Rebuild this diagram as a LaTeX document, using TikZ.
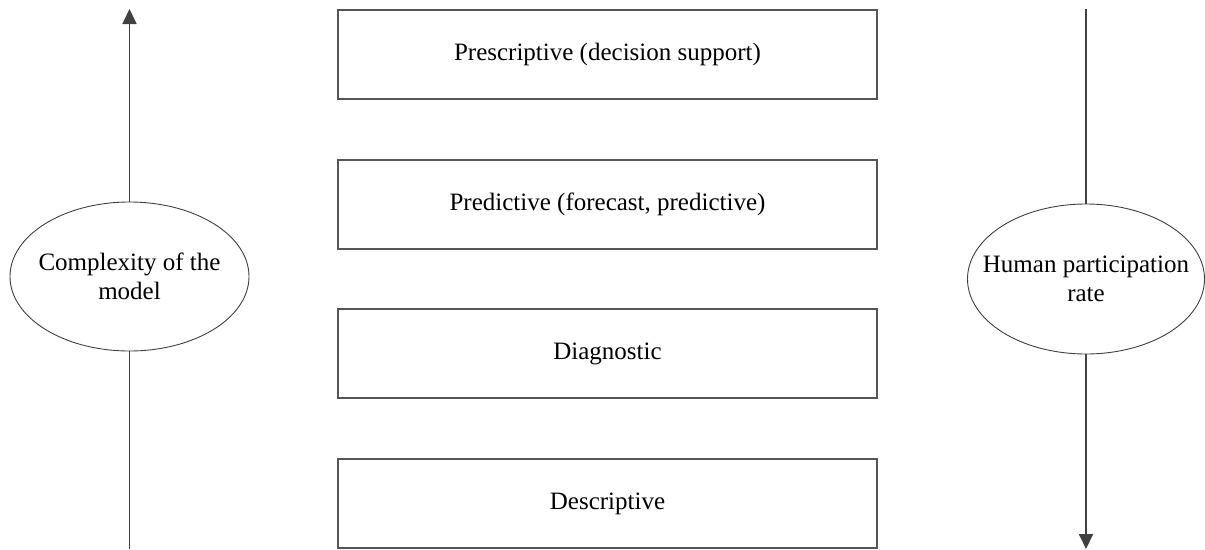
\documentclass[tikz,border=0pt]{standalone}
\usepackage{fontspec}
\setmainfont{Liberation Serif}
\usetikzlibrary{shapes.geometric,arrows.meta}
\definecolor{linegray}{HTML}{404040}
\definecolor{boxgray}{HTML}{555555}
\tikzset{
  stagebox/.style={draw=boxgray, line width=1.2pt, minimum width=539pt, minimum height=89pt, inner sep=0pt, font=\fontsize{25}{29}\selectfont},
  oval/.style={draw=linegray, line width=0.9pt, ellipse, fill=white, inner sep=0pt},
  ovaltext/.style={align=center, inner sep=0pt, font=\fontsize{25}{29}\selectfont},
  axisline/.style={draw=linegray, line width=1.8pt},
  axisarrow/.style={axisline, -{Triangle[width=14pt,length=15pt]}}
}
\begin{document}
\begin{tikzpicture}[x=1pt,y=-1pt]
\useasboundingbox (0,0) rectangle (1205,549);
% stage boxes
\node[stagebox] (pres) at (607.5,54.5) {Prescriptive (decision support)};
\node[stagebox] (pred) at (607.5,204.5) {Predictive (forecast, predictive)};
\node[stagebox] (diag) at (607.5,353.5) {Diagnostic};
\node[stagebox] (desc) at (607.5,503.5) {Descriptive};
% left axis
\node[oval, minimum width=239pt, minimum height=149pt] (lov) at (129.5,276.5) {};
\node[ovaltext] (lovt) at (lov.center) {Complexity of the\\model};
\coordinate (lbot) at (129.5,549);
\coordinate (ltop) at (129.5,9);
\draw[axisline] (lbot) -- (lov.south);
\draw[axisarrow] (lov.north) -- (ltop);
% right axis
\node[oval, minimum width=237pt, minimum height=150pt] (rov) at (1086,279) {};
\node[ovaltext] (rovt) at (rov.center) {Human participation\\rate};
\coordinate (rtop) at (1086,9);
\coordinate (rbot) at (1086,549);
\draw[axisline] (rtop) -- (rov.north);
\draw[axisarrow] (rov.south) -- (rbot);
\end{tikzpicture}
\end{document}
